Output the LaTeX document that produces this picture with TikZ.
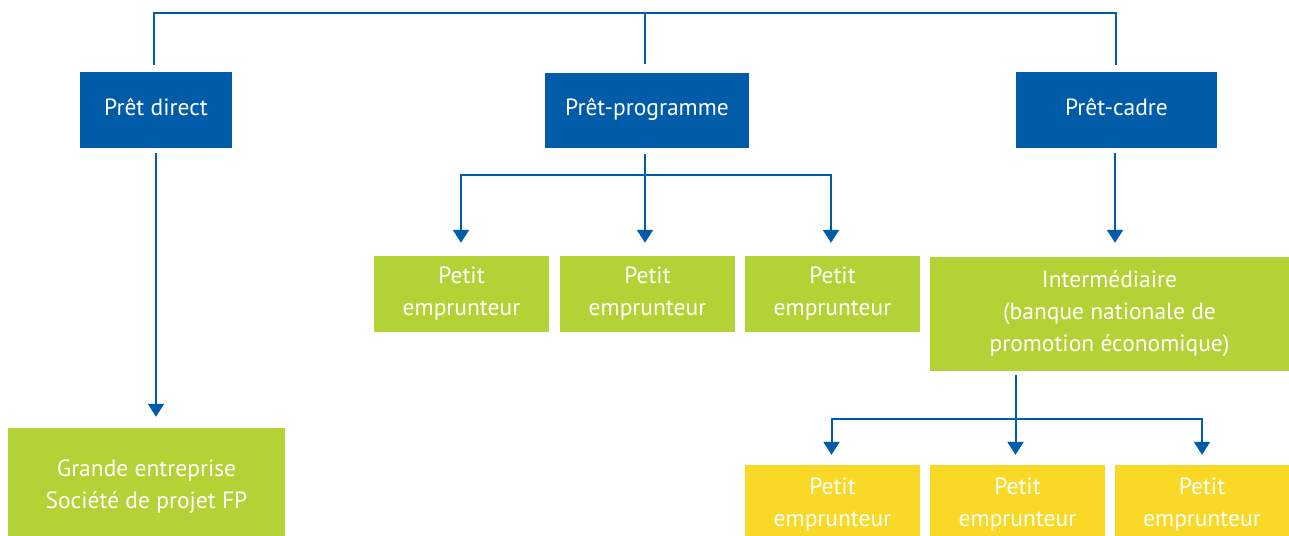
\documentclass[tikz,border=0pt]{standalone}
\usepackage{fontspec}
\setmainfont{PT Sans}
\usetikzlibrary{arrows.meta}
\definecolor{eibblue}{RGB}{0,92,169}
\definecolor{eibgreen}{RGB}{178,210,53}
\definecolor{eibyellow}{RGB}{250,217,38}
\tikzset{
  box/.style={inner sep=0pt, text=white, align=center, font=\fontsize{23.5}{32}\selectfont},
  bluebox/.style={box, fill=eibblue, text height=18pt, text depth=8pt},
  greenbox/.style={box, fill=eibgreen},
  yellowbox/.style={box, fill=eibyellow},
  conn/.style={draw=eibblue, line width=2pt},
  arr/.style={conn, -{Triangle[width=16pt,length=13pt]}}
}
\begin{document}
\begin{tikzpicture}[x=1pt,y=-1pt]
\useasboundingbox (0,0) rectangle (1289,535);
% top row
\node[bluebox, minimum width=152pt, minimum height=76pt] (direct) at (156,110) {Prêt direct};
\node[bluebox, minimum width=204pt, minimum height=75pt] (prog) at (647,110) {Prêt-programme};
\node[bluebox, minimum width=201pt, minimum height=76pt] (cadre) at (1116.5,110) {Prêt-cadre};
% middle row
\node[greenbox, minimum width=175pt, minimum height=76pt] (p1) at (461.5,294) {Petit\\emprunteur};
\node[greenbox, minimum width=175pt, minimum height=76pt] (p2) at (647.5,294) {Petit\\emprunteur};
\node[greenbox, minimum width=175pt, minimum height=76pt] (p3) at (832.5,294) {Petit\\emprunteur};
\node[greenbox, minimum width=359pt, minimum height=114pt] (inter) at (1109.5,314) {Intermédiaire\\(banque nationale de\\promotion économique)};
% bottom row (boxes run past the lower edge)
\node[greenbox, minimum width=277pt, minimum height=117pt] (grande) at (146.5,486.5) {Grande entreprise\\Société de projet FP};
\node[yellowbox, minimum width=175pt, minimum height=80pt] (y1) at (832.5,505) {Petit\\emprunteur};
\node[yellowbox, minimum width=175pt, minimum height=80pt] (y2) at (1017.5,505) {Petit\\emprunteur};
\node[yellowbox, minimum width=174pt, minimum height=80pt] (y3) at (1202,505) {Petit\\emprunteur};
% buses
\coordinate (top) at (0,13);
\coordinate (bus1) at (0,175);
\coordinate (bus2) at (0,419);
% top connector
\draw[conn] ([xshift=-2pt,yshift=7pt]direct.north) -- ([xshift=-2pt]direct.north |- top) -| ([xshift=-1pt,yshift=7pt]cadre.north);
\draw[conn] ([xshift=-2pt,yshift=8pt]prog.north) -- ([xshift=-2pt]prog.north |- top);
% direct
\draw[arr] ([yshift=-5pt]direct.south) -- ([yshift=11pt]grande.north -| direct.south);
% programme
\draw[arr] ([xshift=-2pt,yshift=-6pt]prog.south) -- ([xshift=-2pt,yshift=13pt]p2.north -| prog.south);
\draw[arr] ([xshift=-2pt]prog.south |- bus1) -| ([xshift=-0.5pt,yshift=13pt]p1.north);
\draw[arr] ([xshift=-2pt]prog.south |- bus1) -| ([xshift=-1.5pt,yshift=13pt]p3.north);
% cadre
\draw[arr] ([xshift=-1.5pt,yshift=-5pt]cadre.south) -- ([xshift=-1.5pt,yshift=14pt]inter.north -| cadre.south);
\draw[arr] ([xshift=-2pt,yshift=-4pt]inter.south -| y2.north) -- ([xshift=-2pt,yshift=10pt]y2.north);
\draw[arr] ([xshift=-2pt]y2.north |- bus2) -| ([xshift=-1pt,yshift=10pt]y1.north);
\draw[arr] ([xshift=-2pt]y2.north |- bus2) -| ([yshift=10pt]y3.north);
\end{tikzpicture}
\end{document}
